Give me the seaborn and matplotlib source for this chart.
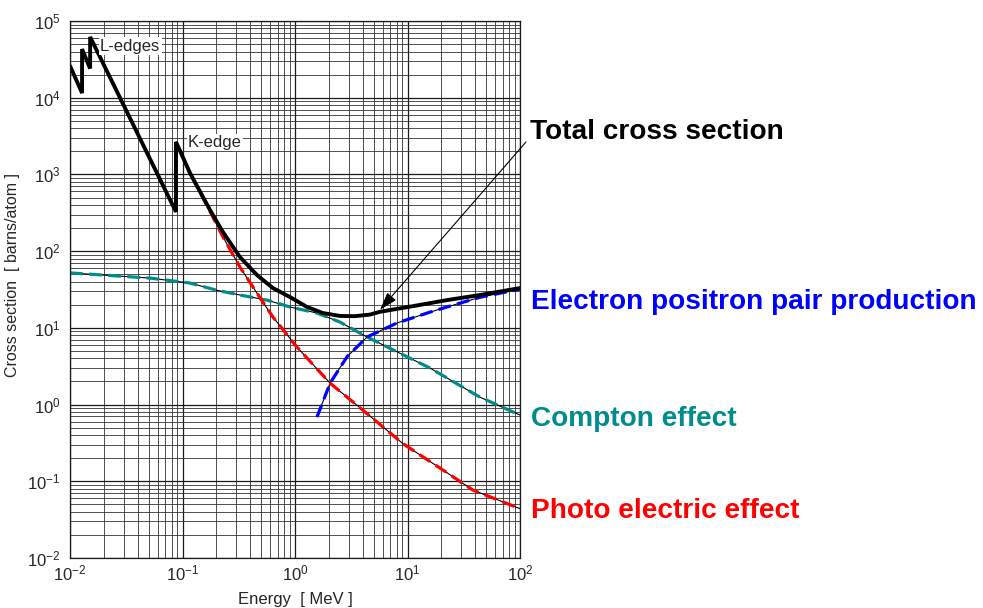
import numpy as np
import pandas as pd
import matplotlib
matplotlib.use("Agg")
import matplotlib.pyplot as plt
import seaborn as sns
from matplotlib.ticker import LogLocator, FixedLocator

# ---------------- data ----------------
total_E = [0.01, 0.0128, 0.0128, 0.0151, 0.0151, 0.0875, 0.0875, 0.1166, 0.1756,
           0.229, 0.324, 0.459, 0.637, 0.903, 1.28, 1.77, 2.51, 3.4, 4.64, 5.7,
           11.2, 22.4, 44, 100]
total_sigma = [2.6e4, 1.15e4, 4.3e4, 2.4e4, 6.2e4, 325, 2650, 1042, 344,
               177, 83.8, 48.8, 33, 25.2, 18.7, 15.6, 14.3, 14.2, 14.9, 16.2,
               19.2, 23, 26.8, 33]

photo_E = [0.0875, 0.1166, 0.1756, 0.229, 0.324, 0.459, 0.637, 0.766, 1.0, 2.05,
           4.0, 9.1, 20.7, 38, 100]
photo_sigma = [2650, 1042, 330, 153, 62, 28.4, 13.8, 9.9, 6.0, 1.9,
               0.85, 0.31, 0.14, 0.077, 0.044]

compton_E = [0.01, 0.051, 0.1166, 0.2, 0.324, 0.564, 0.903, 1.57, 2.51, 4.37,
             15.8, 44, 100]
compton_sigma = [52, 44.6, 38.4, 31, 26.8, 23, 18.7, 15.6, 11.9, 7.6,
                 3.0, 1.25, 0.73]

pair_E = [1.57, 2.05, 2.9, 4.37, 8.1, 15.8, 22.4, 44, 100]
pair_sigma = [0.69, 1.9, 4.2, 7.6, 11.6, 16, 18.7, 25, 32]

x_ticks = [1e-2, 1e-1, 1e0, 1e1, 1e2]
x_tick_labels = [r"$10^{-2}$", r"$10^{-1}$", r"$10^{0}$", r"$10^{1}$", r"$10^{2}$"]
y_ticks = [1e-2, 1e-1, 1e0, 1e1, 1e2, 1e3, 1e4, 1e5]
y_tick_labels = [r"$10^{-2}$", r"$10^{-1}$", r"$10^{0}$", r"$10^{1}$",
                 r"$10^{2}$", r"$10^{3}$", r"$10^{4}$", r"$10^{5}$"]

series_labels = ["Total cross section", "Electron positron pair production",
                 "Compton effect", "Photo electric effect"]

# ---------------- style ----------------
sns.set_style("white")
plt.rcParams["font.family"] = ["Liberation Sans", "DejaVu Sans"]
plt.rcParams["mathtext.fontset"] = "custom"
plt.rcParams["mathtext.rm"] = "Liberation Sans"
plt.rcParams["mathtext.it"] = "Liberation Sans:italic"
plt.rcParams["mathtext.bf"] = "Liberation Sans:bold"

RED = "#ff0000"
TEAL = "#008c8c"
BLUE = "#0000ff"

fig = plt.figure(figsize=(9.83, 6.08), dpi=100)
ax = fig.add_axes([70 / 983, 1 - 558 / 608, 450 / 983, 537 / 608])

ax.set_xscale("log")
ax.set_yscale("log")
ax.set_xlim(1e-2, 1e2)
ax.set_ylim(1e-2, 1e5)

# grid like scanned log paper
ax.xaxis.set_minor_locator(LogLocator(base=10, subs=np.arange(2, 10)))
ax.yaxis.set_minor_locator(LogLocator(base=10, subs=np.arange(2, 10)))
ax.grid(which="major", color="#1a1a1a", lw=0.9)
ax.grid(which="minor", color="#333333", lw=0.6)
ax.set_axisbelow(True)
ax.tick_params(which="both", length=0)

# thin black underlines beneath the coloured dashed curves
for E, s in [(photo_E, photo_sigma), (compton_E, compton_sigma), (pair_E, pair_sigma)]:
    sns.lineplot(x=E, y=s, ax=ax, color="black", lw=0.8, estimator=None,
                 sort=False, legend=False)

sns.lineplot(x=compton_E, y=compton_sigma, ax=ax, color=TEAL, lw=2.3,
             estimator=None, sort=False, legend=False)
ax.lines[-1].set_dashes([4, 2])
sns.lineplot(x=pair_E, y=pair_sigma, ax=ax, color=BLUE, lw=2.3,
             estimator=None, sort=False, legend=False)
ax.lines[-1].set_dashes([4, 2])
sns.lineplot(x=photo_E, y=photo_sigma, ax=ax, color=RED, lw=2.3,
             estimator=None, sort=False, legend=False)
ax.lines[-1].set_dashes([4, 2])

sns.lineplot(x=total_E, y=total_sigma, ax=ax, color="black", lw=2.8,
             estimator=None, sort=False, legend=False)
ax.lines[-1].set_solid_joinstyle("miter")

ax.xaxis.set_major_locator(FixedLocator(x_ticks))
ax.yaxis.set_major_locator(FixedLocator(y_ticks))
ax.set_xticklabels(x_tick_labels, fontsize=12)
ax.set_yticklabels(y_tick_labels, fontsize=12)
ax.tick_params(axis="y", pad=7)
ax.tick_params(axis="x", pad=4)

ax.set_xlabel("Energy  [ MeV ]", fontsize=12, labelpad=6)
ax.set_ylabel("Cross section  [ barns/atom ]", fontsize=11.5)
ax.yaxis.set_label_coords(-0.112, 0.527)

for sp in ax.spines.values():
    sp.set_color("#1a1a1a")
    sp.set_linewidth(0.9)

# edge annotations
bbox = dict(facecolor="white", edgecolor="none", pad=1.0)
ax.text(0.0185, 4.7e4, "L-edges", fontsize=12, ha="left", va="center", bbox=bbox)
ax.text(0.112, 2.6e3, "K-edge", fontsize=12, ha="left", va="center", bbox=bbox)

# right-hand labels
fs = 20.2
fig.text(530 / 983, 1 - 132 / 608, series_labels[0], fontsize=fs,
         fontweight="bold", color="black", ha="left", va="center")
fig.text(531 / 983, 1 - 302 / 608, series_labels[1], fontsize=fs,
         fontweight="bold", color=BLUE, ha="left", va="center")
fig.text(531 / 983, 1 - 419 / 608, series_labels[2], fontsize=fs,
         fontweight="bold", color=TEAL, ha="left", va="center")
fig.text(531 / 983, 1 - 511 / 608, series_labels[3], fontsize=fs,
         fontweight="bold", color=RED, ha="left", va="center")

ax.annotate("", xy=(5.7, 17.2), xycoords="data",
            xytext=(526 / 983, 1 - 142 / 608), textcoords="figure fraction",
            arrowprops=dict(arrowstyle="-|>,head_length=1.1,head_width=0.35",
                            lw=0.8, color="black", shrinkA=0, shrinkB=0),
            annotation_clip=False)

fig.savefig("out.png", dpi=100)
